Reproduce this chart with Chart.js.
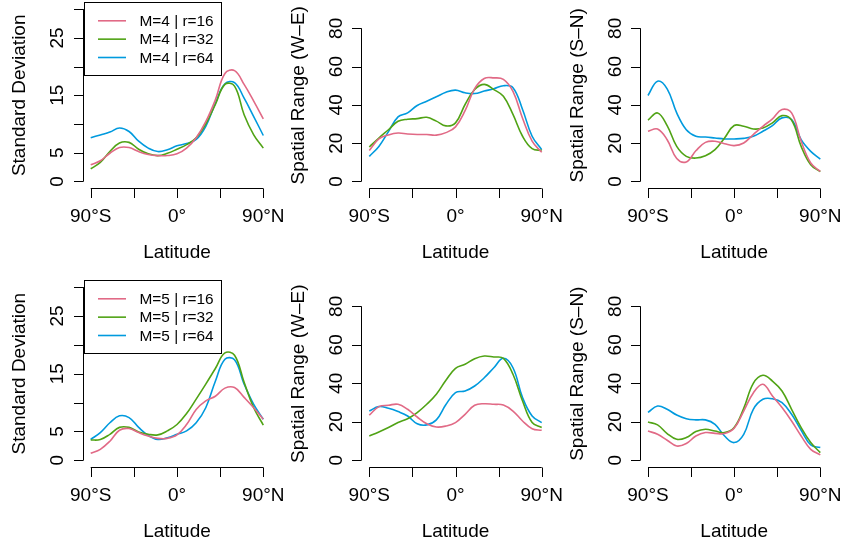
<!DOCTYPE html>
<html>
<head>
<meta charset="utf-8">
<script src="https://cdn.jsdelivr.net/npm/chart.js@4.4.1/dist/chart.umd.min.js"></script>
<style>
  html, body { margin: 0; padding: 0; background: #fff; }
  #page { position: relative; width: 843px; height: 543px; overflow: hidden; }
  #page canvas { position: absolute; }
</style>
</head>
<body>
<div id="page">
  <canvas id="c1" width="300" height="271" style="left:0;top:0"></canvas>
  <canvas id="c2" width="300" height="271" style="left:281px;top:0"></canvas>
  <canvas id="c3" width="281" height="271" style="left:562px;top:0"></canvas>
  <canvas id="c4" width="300" height="272" style="left:0;top:271px"></canvas>
  <canvas id="c5" width="300" height="272" style="left:281px;top:271px"></canvas>
  <canvas id="c6" width="281" height="272" style="left:562px;top:271px"></canvas>
</div>
<script>
// latitude grid (degrees) for all curves
const lat = [-90, -80, -70, -60, -50, -40, -30, -20, -10, 0, 10, 20, 30, 40, 50, 60, 70, 80, 90];

const latTicks = [-90, -45, 0, 45, 90];
const latTickLabels = ['90°S', '', '0°', '', '90°N'];
const sdTicks = [0, 5, 10, 15, 20, 25, 30];
const sdTickLabels = ['0', '5', '', '15', '', '25', ''];
const rangeTicks = [0, 20, 40, 60, 80];
const rangeTickLabels = ['0', '20', '40', '60', '80'];

const namesM4 = ['M=4 | r=16', 'M=4 | r=32', 'M=4 | r=64'];
const namesM5 = ['M=5 | r=16', 'M=5 | r=32', 'M=5 | r=64'];
const seriesColors = ['#E16A86', '#50A315', '#009ADE'];

// M=4 : standard deviation
const sdM4r16 = [2.9, 3.6, 4.9, 5.9, 5.9, 5.2, 4.7, 4.5, 4.5, 4.8, 5.8, 7.6, 10.4, 14.2, 18.8, 19.3, 16.9, 14.0, 10.9];
const sdM4r32 = [2.2, 3.3, 5.2, 6.7, 6.8, 5.6, 4.8, 4.5, 4.9, 5.6, 6.4, 7.6, 10.0, 13.4, 16.9, 16.6, 11.6, 8.1, 5.8];
const sdM4r64 = [7.6, 8.1, 8.6, 9.3, 8.7, 7.0, 5.8, 5.2, 5.5, 6.2, 6.6, 7.3, 9.6, 13.6, 17.0, 17.2, 14.5, 11.3, 8.0];
// M=4 : spatial range W-E
const weM4r16 = [16.2, 22.2, 24.3, 25.3, 24.8, 24.5, 24.5, 24.2, 25.5, 28.5, 37.0, 48.5, 53.8, 54.1, 53.3, 47.0, 33.0, 21.0, 15.2];
const weM4r32 = [18.0, 22.7, 27.0, 31.4, 32.5, 32.8, 33.5, 31.5, 29.0, 30.6, 40.2, 48.0, 50.7, 48.0, 44.5, 35.0, 23.6, 17.1, 16.2];
const weM4r64 = [13.1, 18.3, 26.0, 33.7, 35.8, 39.7, 41.9, 44.2, 46.6, 47.7, 46.3, 45.9, 47.2, 48.4, 50.0, 49.0, 37.6, 23.6, 16.6];
// M=4 : spatial range S-N
const snM4r16 = [26.2, 27.4, 21.8, 12.0, 10.2, 16.0, 20.4, 21.0, 19.7, 18.7, 20.1, 24.5, 28.8, 32.7, 37.6, 35.8, 21.0, 9.6, 5.2];
const snM4r32 = [32.0, 35.8, 29.2, 18.3, 13.1, 12.2, 13.4, 16.6, 22.7, 29.2, 28.8, 27.4, 27.9, 30.6, 34.4, 32.0, 18.3, 8.7, 5.1];
const snM4r64 = [44.9, 52.4, 48.4, 35.8, 27.0, 23.6, 23.2, 22.7, 22.2, 22.2, 22.5, 23.6, 26.2, 29.2, 33.2, 32.3, 21.8, 15.7, 11.7];
// M=5 : standard deviation
const sdM5r16 = [1.2, 1.9, 3.3, 5.2, 5.5, 4.8, 4.2, 3.8, 3.8, 4.4, 6.2, 8.8, 10.3, 11.1, 12.5, 12.6, 10.9, 9.1, 7.1];
const sdM5r32 = [3.5, 3.6, 4.5, 5.7, 5.7, 4.9, 4.5, 4.4, 5.1, 6.2, 8.1, 10.6, 13.2, 15.9, 18.6, 18.2, 13.5, 9.1, 6.1];
const sdM5r64 = [3.6, 4.8, 6.5, 7.7, 7.4, 5.7, 4.3, 3.6, 3.9, 4.5, 5.1, 6.5, 9.1, 13.7, 17.5, 17.4, 13.2, 9.7, 7.1];
// M=5 : spatial range W-E
const weM5r16 = [23.5, 27.9, 28.6, 29.1, 26.5, 22.5, 19.0, 17.3, 17.8, 19.6, 23.9, 28.6, 29.4, 29.1, 28.7, 25.6, 20.4, 16.4, 15.6];
const weM5r32 = [12.6, 14.7, 17.0, 19.6, 21.6, 24.8, 29.1, 34.3, 41.6, 47.8, 49.9, 52.8, 54.2, 53.7, 53.0, 44.7, 30.8, 19.6, 17.0];
const weM5r64 = [25.6, 27.9, 27.0, 25.3, 23.0, 19.0, 18.4, 21.0, 29.0, 35.2, 36.0, 38.6, 42.9, 48.1, 53.0, 48.1, 32.6, 23.0, 19.6];
// M=5 : spatial range S-N
const snM5r16 = [15.2, 13.5, 10.4, 7.4, 8.7, 12.6, 14.4, 14.0, 13.9, 16.6, 25.6, 35.0, 39.5, 33.4, 27.4, 20.4, 12.6, 5.7, 2.8];
const snM5r32 = [19.9, 18.4, 13.9, 10.9, 11.8, 14.9, 16.1, 15.2, 14.4, 17.0, 27.0, 40.0, 44.2, 41.2, 36.0, 26.5, 17.0, 9.2, 4.0];
const snM5r64 = [24.9, 28.2, 26.5, 23.5, 21.6, 21.0, 21.0, 18.7, 12.6, 9.2, 13.5, 26.5, 31.7, 32.0, 30.0, 23.9, 15.6, 8.0, 6.6];

const FONT = '"Liberation Sans", Arial, Helvetica, sans-serif';
const TICK = 9.5;

// draws R-style axes (detached, outward ticks, rotated y labels) and the legend box
const rAxes = {
  id: 'rAxes',
  afterDraw(chart, args, o) {
    const ctx = chart.ctx;
    const area = chart.chartArea;
    const xs = chart.scales.x;
    const ys = chart.scales.y;
    ctx.save();
    ctx.strokeStyle = '#000';
    ctx.fillStyle = '#000';
    ctx.lineWidth = 1;

    // x axis
    const yb = Math.round(area.bottom) + 0.5;
    ctx.beginPath();
    ctx.moveTo(xs.getPixelForValue(o.xTicks[0]), yb);
    ctx.lineTo(xs.getPixelForValue(o.xTicks[o.xTicks.length - 1]), yb);
    o.xTicks.forEach(v => {
      const px = Math.round(xs.getPixelForValue(v)) + 0.5;
      ctx.moveTo(px, yb);
      ctx.lineTo(px, yb + TICK);
    });
    ctx.stroke();
    ctx.font = '19px ' + FONT;
    ctx.textAlign = 'center';
    ctx.textBaseline = 'alphabetic';
    o.xTicks.forEach((v, i) => {
      if (o.xLabels[i]) ctx.fillText(o.xLabels[i], xs.getPixelForValue(v), area.bottom + 34);
    });
    ctx.fillText(o.xTitle, (area.left + area.right) / 2, area.bottom + 70);

    // y axis
    const xl = Math.round(area.left) - 0.5;
    ctx.beginPath();
    ctx.moveTo(xl, ys.getPixelForValue(o.yTicks[0]));
    ctx.lineTo(xl, ys.getPixelForValue(o.yTicks[o.yTicks.length - 1]));
    o.yTicks.forEach(v => {
      const py = Math.round(ys.getPixelForValue(v)) + 0.5;
      ctx.moveTo(xl, py);
      ctx.lineTo(xl - TICK, py);
    });
    ctx.stroke();
    o.yTicks.forEach((v, i) => {
      if (!o.yLabels[i]) return;
      ctx.save();
      ctx.translate(area.left - 20.5, ys.getPixelForValue(v));
      ctx.rotate(-Math.PI / 2);
      ctx.fillText(o.yLabels[i], 0, 0);
      ctx.restore();
    });
    ctx.save();
    ctx.translate(area.left - 58.5, (area.top + area.bottom) / 2);
    ctx.rotate(-Math.PI / 2);
    ctx.fillText(o.yTitle, 0, 0);
    ctx.restore();

    // legend (top left, boxed)
    if (o.legend) {
      const bx = Math.round(area.left) + 0.5;
      const by = Math.round(area.top) + 0.5;
      ctx.fillStyle = '#fff';
      ctx.fillRect(bx, by, 137, 73);
      ctx.strokeStyle = '#000';
      ctx.strokeRect(bx, by, 137, 73);
      ctx.font = '15.4px ' + FONT;
      ctx.textAlign = 'left';
      ctx.textBaseline = 'middle';
      chart.data.datasets.forEach((ds, i) => {
        const ly = by + 18.3 + i * 18.35;
        ctx.strokeStyle = ds.borderColor;
        ctx.lineWidth = 1.6;
        ctx.beginPath();
        ctx.moveTo(bx + 13.5, ly);
        ctx.lineTo(bx + 41.5, ly);
        ctx.stroke();
        ctx.fillStyle = '#000';
        ctx.fillText(ds.label, bx + 55, ly + 1);
      });
    }
    ctx.restore();
  }
};

function makePanel(id, pad, names, series, yMin, yMax, yTicks, yLabels, yTitle, legend) {
  new Chart(document.getElementById(id), {
    type: 'line',
    data: {
      datasets: series.map((s, i) => ({
        label: names[i],
        data: lat.map((x, j) => ({ x: x, y: s[j] })),
        borderColor: seriesColors[i],
        borderWidth: 1.6,
        pointRadius: 0,
        tension: 0.4,
        fill: false
      }))
    },
    options: {
      responsive: false,
      animation: false,
      devicePixelRatio: 1,
      layout: { padding: pad },
      plugins: {
        legend: { display: false },
        tooltip: { enabled: false },
        rAxes: {
          xTicks: latTicks, xLabels: latTickLabels, xTitle: 'Latitude',
          yTicks: yTicks, yLabels: yLabels, yTitle: yTitle, legend: legend
        }
      },
      scales: {
        x: { type: 'linear', min: -97.2, max: 97.2, display: false },
        y: { type: 'linear', min: yMin, max: yMax, display: false }
      }
    },
    plugins: [rAxes]
  });
}

// canvases 1,2,4,5 are 19px wider than their cell so "90°N" is not cut off
const padTop = [{ left: 83.8, right: 29.8, top: 2.3, bottom: 82.7 },
                { left: 81.4, right: 32.4, top: 2.3, bottom: 82.7 },
                { left: 79.1, right: 15.8, top: 2.3, bottom: 82.7 }];
const padBottom = [{ left: 83.8, right: 29.8, top: 9.2, bottom: 75.8 },
                   { left: 81.4, right: 32.4, top: 9.2, bottom: 75.8 },
                   { left: 79.1, right: 15.8, top: 9.2, bottom: 75.8 }];

makePanel('c1', padTop[0], namesM4, [sdM4r16, sdM4r32, sdM4r64], -1.2, 31.2, sdTicks, sdTickLabels, 'Standard Deviation', true);
makePanel('c2', padTop[1], namesM4, [weM4r16, weM4r32, weM4r64], -3.6, 93.6, rangeTicks, rangeTickLabels, 'Spatial Range (W\u2013E)', false);
makePanel('c3', padTop[2], namesM4, [snM4r16, snM4r32, snM4r64], -3.6, 93.6, rangeTicks, rangeTickLabels, 'Spatial Range (S\u2013N)', false);
makePanel('c4', padBottom[0], namesM5, [sdM5r16, sdM5r32, sdM5r64], -1.2, 31.2, sdTicks, sdTickLabels, 'Standard Deviation', true);
makePanel('c5', padBottom[1], namesM5, [weM5r16, weM5r32, weM5r64], -3.6, 93.6, rangeTicks, rangeTickLabels, 'Spatial Range (W\u2013E)', false);
makePanel('c6', padBottom[2], namesM5, [snM5r16, snM5r32, snM5r64], -3.6, 93.6, rangeTicks, rangeTickLabels, 'Spatial Range (S\u2013N)', false);
</script>
</body>
</html>
